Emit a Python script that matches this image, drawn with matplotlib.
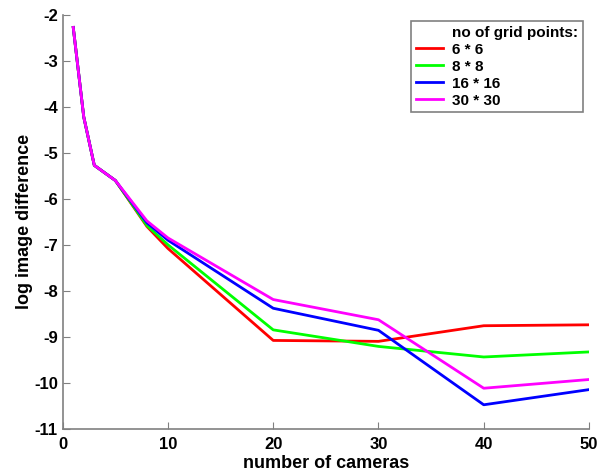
import matplotlib.pyplot as plt
from matplotlib.lines import Line2D

plt.rcParams['font.family'] = ['Liberation Sans', 'DejaVu Sans']
plt.rcParams['font.weight'] = 'bold'
plt.rcParams['axes.unicode_minus'] = False

cameras = [1, 2, 3, 5, 8, 10, 20, 30, 40, 50]
grid_6 = [-2.27, -4.22, -5.27, -5.6, -6.6, -7.08, -9.08, -9.1, -8.76, -8.74]
grid_8 = [-2.27, -4.22, -5.27, -5.6, -6.58, -7.0, -8.85, -9.21, -9.44, -9.33]
grid_16 = [-2.27, -4.22, -5.27, -5.6, -6.52, -6.9, -8.38, -8.86, -10.48, -10.15]
grid_30 = [-2.27, -4.22, -5.27, -5.6, -6.48, -6.85, -8.19, -8.63, -10.12, -9.93]
labels = ['6 * 6', '8 * 8', '16 * 16', '30 * 30']
colors = ['#ff0000', '#00ff00', '#0000ff', '#ff00ff']

fig = plt.figure(figsize=(5.99, 4.75), dpi=100)
ax = fig.add_axes([0.1047, 0.0975, 0.8786, 0.8709])

series = [grid_6, grid_8, grid_16, grid_30]
for vals, lab, c in zip(series, labels, colors):
    ax.plot(cameras, vals, color=c, linewidth=2, label=lab)

ax.set_xlim(0, 50)
ax.set_ylim(-11, -2)
ax.set_xticks(range(0, 51, 10))
ax.set_yticks(range(-11, -1))
for s in ['top', 'right']:
    ax.spines[s].set_visible(False)
for s in ['left', 'bottom']:
    ax.spines[s].set_color('#808080')
    ax.spines[s].set_linewidth(1.2)
ax.tick_params(direction='in', colors='#808080', labelcolor='black', labelsize=12, length=5)
ax.tick_params(axis='x', pad=6)
for t in ax.get_xticklabels() + ax.get_yticklabels():
    t.set_fontweight('bold')

ax.set_xlabel('number of cameras', fontsize=13, fontweight='bold', labelpad=2)
ax.set_ylabel('log image difference', fontsize=13, fontweight='bold', labelpad=1)

handles = [Line2D([], [], color='none')] + ax.get_lines()
leg = ax.legend(handles, ['no of grid points:'] + labels, loc='upper right',
                bbox_to_anchor=(0.9886, 0.9855), fancybox=False, edgecolor='#808080',
                framealpha=1, fontsize=11, handlelength=1.8, borderpad=0.3,
                labelspacing=0.2, handletextpad=0.6, borderaxespad=0)
leg.get_frame().set_linewidth(1.2)
for t in leg.get_texts():
    t.set_fontweight('bold')

fig.savefig('out.png', dpi=100)
